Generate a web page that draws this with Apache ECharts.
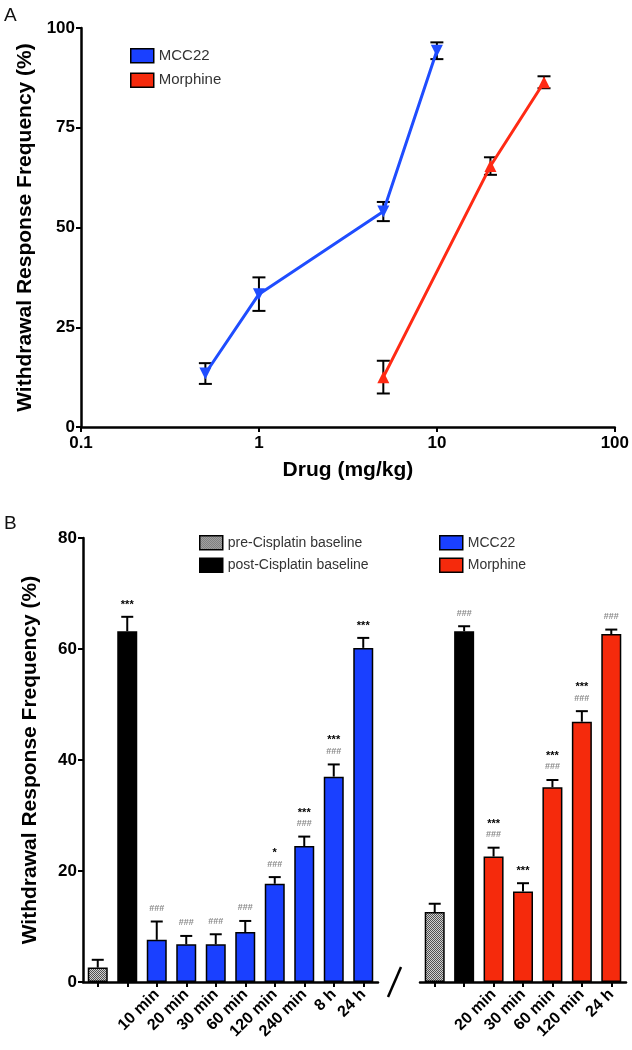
<!DOCTYPE html>
<html><head><meta charset="utf-8">
<script src="https://cdn.jsdelivr.net/npm/echarts@6/dist/echarts.min.js"></script>
<style>html,body{margin:0;padding:0;background:#fff}#c{width:632px;height:1050px}</style>
</head><body><div id="c"></div>
<script>
// ---------- Panel A data ----------
const doseMCC22 = [0.5, 1, 5, 10];
const respMCC22 = [13.4, 33.3, 54.0, 94.3];
const semMCC22 = [2.6, 4.2, 2.4, 2.1];
const doseMorphine = [5, 20, 40];
const respMorphine = [12.5, 65.4, 86.4];
const semMorphine = [4.1, 2.2, 1.5];
const yTicksA = [0, 25, 50, 75, 100];

// ---------- Panel B data ----------
const leftLabels = ['', '', '10 min', '20 min', '30 min', '60 min', '120 min', '240 min', '8 h', '24 h'];
const leftGroups = ['pre-Cisplatin baseline', 'post-Cisplatin baseline', 'MCC22', 'MCC22', 'MCC22', 'MCC22', 'MCC22', 'MCC22', 'MCC22', 'MCC22'];
const leftMeans = [2.6, 63.2, 7.6, 6.8, 6.8, 9.0, 17.7, 24.5, 37.0, 60.2];
const leftSem = [1.4, 2.6, 3.3, 1.5, 1.8, 2.0, 1.2, 1.7, 2.2, 1.8];
const leftStars = ['', '***', '', '', '', '', '*', '***', '***', '***'];
const leftHashes = ['', '', '###', '###', '###', '###', '###', '###', '###', ''];

const rightLabels = ['', '', '20 min', '30 min', '60 min', '120 min', '24 h'];
const rightGroups = ['pre-Cisplatin baseline', 'post-Cisplatin baseline', 'Morphine', 'Morphine', 'Morphine', 'Morphine', 'Morphine'];
const rightMeans = [12.6, 63.2, 22.6, 16.3, 35.1, 46.9, 62.7];
const rightSem = [1.5, 0.9, 1.6, 1.5, 1.3, 1.9, 0.8];
const rightStars = ['', '', '***', '***', '***', '***', ''];
const rightHashes = ['', '###', '###', '', '###', '###', '###'];

const groupNames = ['pre-Cisplatin baseline', 'post-Cisplatin baseline', 'MCC22', 'Morphine'];

// ---------- styles ----------
const FONT = 'Liberation Sans, Arial, sans-serif';
const BLUE_LINE = '#1f4dff';
const RED_LINE = '#ff2a14';
const BLUE_BAR = '#1a40ff';
const RED_BAR = '#f52a0c';

const pc = document.createElement('canvas');
pc.width = 2; pc.height = 2;
const pctx = pc.getContext('2d');
pctx.fillStyle = '#d0d0d0'; pctx.fillRect(0, 0, 2, 2);
pctx.fillStyle = '#505050'; pctx.fillRect(0, 0, 1, 1); pctx.fillRect(1, 1, 1, 1);
const checker = {image: pc, repeat: 'repeat'};

const groupColor = {
  'pre-Cisplatin baseline': checker,
  'post-Cisplatin baseline': '#000',
  'MCC22': BLUE_BAR,
  'Morphine': RED_BAR
};

const chart = echarts.init(document.getElementById('c'), null, {renderer: 'canvas'});

function errA(params, api) {
  const x = api.value(0), m = api.value(1), e = api.value(2);
  const top = api.coord([x, m + e]);
  const bot = api.coord([x, m - e]);
  const hw = 6.5;
  const st = {stroke: '#000', lineWidth: 2};
  return {type: 'group', children: [
    {type: 'line', shape: {x1: top[0], y1: top[1], x2: bot[0], y2: bot[1]}, style: st},
    {type: 'line', shape: {x1: top[0] - hw, y1: top[1], x2: top[0] + hw, y2: top[1]}, style: st},
    {type: 'line', shape: {x1: bot[0] - hw, y1: bot[1], x2: bot[0] + hw, y2: bot[1]}, style: st}
  ]};
}

function errB(stars, hashes) {
  return function (params, api) {
    const i = params.dataIndex;
    const x = api.value(0), m = api.value(1), e = api.value(2);
    const p0 = api.coord([x, m]);
    const p1 = api.coord([x, m + e]);
    const hw = 6;
    const st = {stroke: '#000', lineWidth: 2};
    const ch = [
      {type: 'line', shape: {x1: p0[0], y1: p0[1], x2: p1[0], y2: p1[1]}, style: st},
      {type: 'line', shape: {x1: p1[0] - hw, y1: p1[1], x2: p1[0] + hw, y2: p1[1]}, style: st}
    ];
    const s = stars[i], h = hashes[i];
    if (h) {
      ch.push({type: 'text', x: p1[0], y: p1[1] - 13, style: {text: h, font: 'bold 9px ' + FONT, fill: '#8a8a8a', align: 'center', verticalAlign: 'middle'}});
    }
    if (s) {
      ch.push({type: 'text', x: p1[0], y: p1[1] - (h ? 24 : 12), style: {text: s, font: 'bold 11px ' + FONT, fill: '#000', align: 'center', verticalAlign: 'middle'}});
    }
    return {type: 'group', children: ch};
  };
}

const axisLineStyle = {color: '#000', width: 2.5};
const tickStyle = {show: true, inside: false, length: 5, lineStyle: {color: '#000', width: 2}};
const boldLabel = {color: '#000', fontFamily: FONT, fontWeight: 'bold', fontSize: 17};
const titleStyle = {color: '#000', fontFamily: FONT, fontWeight: 'bold', fontSize: 21};

function catData(labels) { return labels.map((l, i) => l || ('_' + i)); }

function barSeries(gridIdx, groups, means) {
  return groupNames.map(name => ({
    type: 'bar', name: name,
    xAxisIndex: gridIdx, yAxisIndex: gridIdx,
    barWidth: 20, barGap: '-100%',
    itemStyle: {color: groupColor[name], borderColor: '#000', borderWidth: 1.5},
    data: means.map((m, i) => groups[i] === name ? m : '-'),
    z: 2
  }));
}

const catLabel = {rotate: 45, interval: 0, margin: 10, color: '#000', fontFamily: FONT, fontWeight: 'bold', fontSize: 16,
  formatter: v => v.charAt(0) === '_' ? '' : v};

const option = {
  animation: false,
  backgroundColor: '#fff',
  textStyle: {fontFamily: FONT},
  graphic: [
    {type: 'text', left: 4, top: 6, style: {text: 'A', font: '19px ' + FONT, fill: '#111'}},
    {type: 'text', left: 4, top: 514, style: {text: 'B', font: '19px ' + FONT, fill: '#111'}},
    {type: 'line', shape: {x1: 388, y1: 997, x2: 401, y2: 967}, style: {stroke: '#000', lineWidth: 2.5}}
  ],
  legend: [
    {
      orient: 'vertical', left: 130, top: 48, padding: 0, itemGap: 9,
      itemWidth: 23, itemHeight: 14, icon: 'rect',
      textStyle: {fontSize: 15, color: '#333', fontFamily: FONT},
      data: [
        {name: 'MCC22', icon: 'rect', itemStyle: {color: BLUE_BAR, borderColor: '#000', borderWidth: 1.5}},
        {name: 'Morphine', icon: 'rect', itemStyle: {color: RED_BAR, borderColor: '#000', borderWidth: 1.5}}
      ],
      selectedMode: false
    },
    {
      orient: 'vertical', left: 199, top: 535, padding: 0, itemGap: 7,
      itemWidth: 23, itemHeight: 14, icon: 'rect',
      textStyle: {fontSize: 14, color: '#333', fontFamily: FONT},
      data: [
        {name: 'pre-Cisplatin baseline', icon: 'rect', itemStyle: {color: checker, borderColor: '#000', borderWidth: 1.5}},
        {name: 'post-Cisplatin baseline', icon: 'rect', itemStyle: {color: '#000', borderColor: '#000', borderWidth: 1.5}}
      ],
      selectedMode: false
    },
    {
      orient: 'vertical', left: 439, top: 535, padding: 0, itemGap: 7,
      itemWidth: 23, itemHeight: 14, icon: 'rect',
      textStyle: {fontSize: 14, color: '#333', fontFamily: FONT},
      data: [
        {name: 'MCC22', icon: 'rect', itemStyle: {color: BLUE_BAR, borderColor: '#000', borderWidth: 1.5}},
        {name: 'Morphine', icon: 'rect', itemStyle: {color: RED_BAR, borderColor: '#000', borderWidth: 1.5}}
      ],
      selectedMode: false
    }
  ],
  grid: [
    {left: 81, right: 17, top: 28, height: 399},
    {left: 83, width: 295, top: 538, height: 444},
    {left: 420, width: 206, top: 538, height: 444}
  ],
  xAxis: [
    {
      type: 'log', logBase: 10, min: 0.1, max: 100, gridIndex: 0,
      axisLine: {lineStyle: axisLineStyle}, axisTick: tickStyle, splitLine: {show: false},
      minorTick: {show: false},
      axisLabel: Object.assign({}, boldLabel, {margin: 8, formatter: v => String(+v.toPrecision(3))}),
      name: 'Drug (mg/kg)', nameLocation: 'middle', nameGap: 33,
      nameTextStyle: titleStyle
    },
    {
      type: 'category', gridIndex: 1, data: catData(leftLabels),
      axisLine: {lineStyle: axisLineStyle}, axisTick: Object.assign({alignWithLabel: true}, tickStyle),
      axisLabel: catLabel
    },
    {
      type: 'category', gridIndex: 2, data: catData(rightLabels),
      axisLine: {lineStyle: axisLineStyle}, axisTick: Object.assign({alignWithLabel: true}, tickStyle),
      axisLabel: catLabel
    }
  ],
  yAxis: [
    {
      type: 'value', gridIndex: 0, min: yTicksA[0], max: yTicksA[yTicksA.length - 1], interval: 25,
      axisLine: {show: true, lineStyle: axisLineStyle}, axisTick: tickStyle, splitLine: {show: false},
      axisLabel: Object.assign({}, boldLabel, {margin: 6}),
      name: 'Withdrawal Response Frequency (%)', nameLocation: 'middle', nameGap: 36,
      nameTextStyle: titleStyle
    },
    {
      type: 'value', gridIndex: 1, min: 0, max: 80, interval: 20,
      axisLine: {show: true, lineStyle: axisLineStyle}, axisTick: tickStyle, splitLine: {show: false},
      axisLabel: Object.assign({}, boldLabel, {margin: 6}),
      name: 'Withdrawal Response Frequency (%)', nameLocation: 'middle', nameGap: 42,
      nameTextStyle: titleStyle
    },
    {
      type: 'value', gridIndex: 2, min: 0, max: 80, interval: 20, show: false
    }
  ],
  series: [
    {
      type: 'custom', name: 'errMCC22', xAxisIndex: 0, yAxisIndex: 0, renderItem: errA, z: 1,
      data: doseMCC22.map((d, i) => [d, respMCC22[i], semMCC22[i]])
    },
    {
      type: 'custom', name: 'errMorphine', xAxisIndex: 0, yAxisIndex: 0, renderItem: errA, z: 1,
      data: doseMorphine.map((d, i) => [d, respMorphine[i], semMorphine[i]])
    },
    {
      type: 'line', name: 'MCC22', xAxisIndex: 0, yAxisIndex: 0, z: 3,
      color: BLUE_BAR,
      symbol: 'triangle', symbolRotate: 180, symbolSize: 12,
      lineStyle: {color: BLUE_LINE, width: 3}, itemStyle: {color: BLUE_LINE},
      data: doseMCC22.map((d, i) => [d, respMCC22[i]])
    },
    {
      type: 'line', name: 'Morphine', xAxisIndex: 0, yAxisIndex: 0, z: 3,
      color: RED_BAR,
      symbol: 'triangle', symbolSize: 12,
      lineStyle: {color: RED_LINE, width: 3}, itemStyle: {color: RED_LINE},
      data: doseMorphine.map((d, i) => [d, respMorphine[i]])
    },
    ...barSeries(1, leftGroups, leftMeans),
    ...barSeries(2, rightGroups, rightMeans),
    {
      type: 'custom', name: 'errLeft', xAxisIndex: 1, yAxisIndex: 1, z: 3,
      renderItem: errB(leftStars, leftHashes),
      data: leftMeans.map((m, i) => [i, m, leftSem[i]])
    },
    {
      type: 'custom', name: 'errRight', xAxisIndex: 2, yAxisIndex: 2, z: 3,
      renderItem: errB(rightStars, rightHashes),
      data: rightMeans.map((m, i) => [i, m, rightSem[i]])
    }
  ]
};
chart.setOption(option);
</script>
</body></html>
